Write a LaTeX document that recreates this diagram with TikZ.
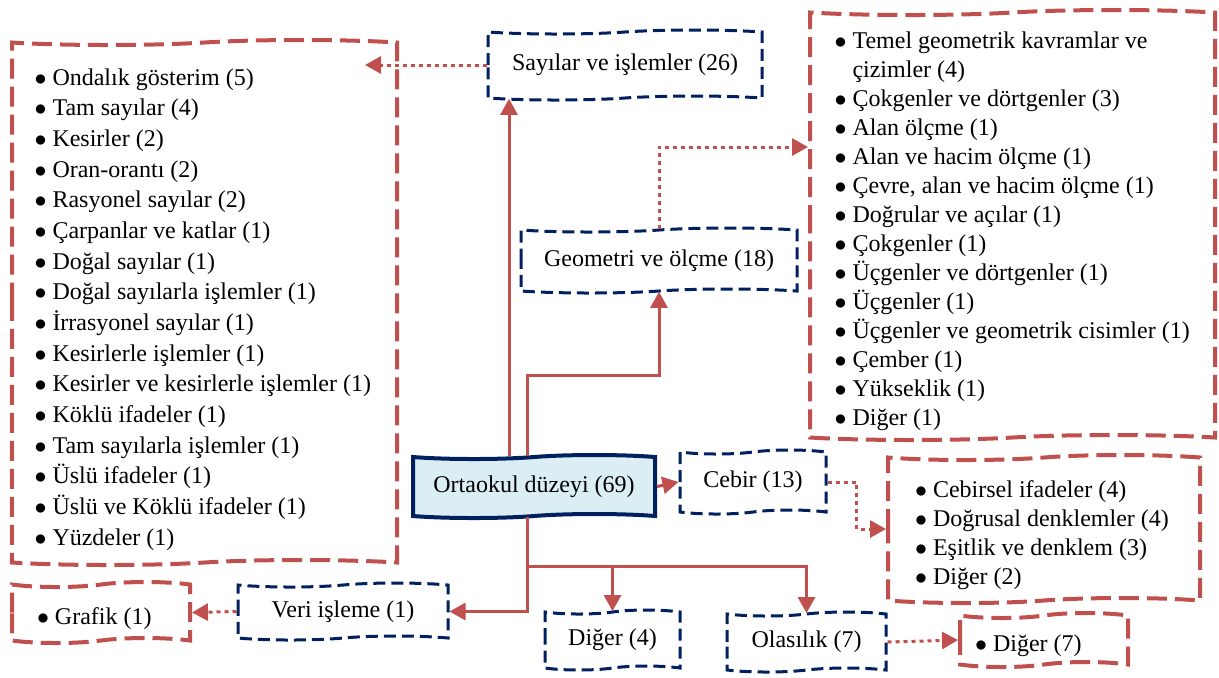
\documentclass[tikz,border=0pt]{standalone}
\usepackage{fontspec}
\setmainfont{Liberation Serif}
\usetikzlibrary{shapes,arrows,arrows.meta,positioning,calc}
\definecolor{kirmizi}{HTML}{C0504D}
\definecolor{lacivert}{HTML}{002060}
\definecolor{acikmavi}{HTML}{DAEEF3}
\newcommand{\madde}[1]{\par\spaceskip=\fontdimen2\font\relax\xspaceskip=0pt\hangindent=9pt\hangafter=1\noindent\makebox[9pt][l]{$\bullet$}#1}

\begin{document}
\begin{tikzpicture}[x=0.5pt, y=-0.5pt, every node/.style={font=\fontsize{12}{14.5}\selectfont},
    kutu/.style={tape, draw=lacivert, line width=1.5pt, dash pattern=on 6pt off 3pt, tape bend height=2pt, inner sep=1pt},
    liste/.style={tape, draw=kirmizi, line width=2pt, dash pattern=on 10pt off 4pt, tape bend height=2.5pt, align=left, inner sep=2pt},
    ok/.style={draw=kirmizi, line width=1.5pt, -{Triangle[length=8pt,width=8.5pt]}},
    noktali/.style={ok, dash pattern=on 2pt off 2pt}]
            \useasboundingbox (0,0) rectangle (1219,677);

            \node[kutu, solid, fill=acikmavi, line width=2pt, minimum width=121pt, minimum height=31.5pt] (ortaokul) at (534,486.5) {Ortaokul düzeyi (69)};
            \node[kutu, minimum width=137pt, minimum height=35pt] (sayilar) at (625,65) {Sayılar ve işlemler (26)};
            \node[kutu, minimum width=138pt, minimum height=32.5pt] (geometri) at (659,260.5) {Geometri ve ölçme (18)};
            \node[kutu, minimum width=73pt, minimum height=32pt] (cebir) at (753,482) {Cebir (13)};
            \node[kutu, minimum width=105pt, minimum height=28.5pt] (veri) at (343,611.5) {Veri işleme (1)};
            \node[kutu, minimum width=67.5pt, minimum height=30pt] (diger) at (612.5,640) {Diğer (4)};
            \node[kutu, minimum width=79.5pt, minimum height=30pt] (olasilik) at (806.5,642) {Olasılık (7)};

            \node[liste, text width=170pt, minimum width=192.5pt, minimum height=262.5pt, font=\fontsize{12}{15.33}\selectfont] (sayilarliste) at (204.5,302.5) {
                \madde{Ondalık gösterim (5)}
                \madde{Tam sayılar (4)}
                \madde{Kesirler (2)}
                \madde{Oran-orantı (2)}
                \madde{Rasyonel sayılar (2)}
                \madde{Çarpanlar ve katlar (1)}
                \madde{Doğal sayılar (1)}
                \madde{Doğal sayılarla işlemler (1)}
                \madde{İrrasyonel sayılar (1)}
                \madde{Kesirlerle işlemler (1)}
                \madde{Kesirler ve kesirlerle işlemler (1)}
                \madde{Köklü ifadeler (1)}
                \madde{Tam sayılarla işlemler (1)}
                \madde{Üslü ifadeler (1)}
                \madde{Üslü ve Köklü ifadeler (1)}
                \madde{Yüzdeler (1)}};
            \node[liste, text width=178pt, minimum width=202.5pt, minimum height=215pt] (geometriliste) at (1012.5,225) {
                \madde{Temel geometrik kavramlar ve çizimler (4)}
                \madde{Çokgenler ve dörtgenler (3)}
                \madde{Alan ölçme (1)}
                \madde{Alan ve hacim ölçme (1)}
                \madde{Çevre, alan ve hacim ölçme (1)}
                \madde{Doğrular ve açılar (1)}
                \madde{Çokgenler (1)}
                \madde{Üçgenler ve dörtgenler (1)}
                \madde{Üçgenler (1)}
                \madde{Üçgenler ve geometrik cisimler (1)}
                \madde{Çember (1)}
                \madde{Yükseklik (1)}
                \madde{Diğer (1)}};
            \node[liste, text width=129pt, minimum width=156pt, minimum height=74pt] (cebirliste) at (1044,529) {
                \madde{Cebirsel ifadeler (4)}
                \madde{Doğrusal denklemler (4)}
                \madde{Eşitlik ve denklem (3)}
                \madde{Diğer (2)}};
            \node[liste, text width=64pt, minimum width=89pt, minimum height=30.5pt] (veriliste) at (101,612.5) {\madde{Grafik (1)}};
            \node[liste, text width=69pt, minimum width=84pt, minimum height=27pt] (olasilikliste) at (1044,640) {\madde{Diğer (7)}};

            \draw[ok] ([shift={(-25,0)}]ortaokul.north) -- ([shift={(-25,0)}]ortaokul.north |- sayilar.south);
            \draw[ok] ([shift={(-7,0)}]ortaokul.north) -- ++(0,-80) -| (geometri.south);
            \draw[ok] (ortaokul.east) -- (cebir.west);
            \draw[ok] ([shift={(-7,0)}]ortaokul.south) -- ++(0,49) -| (diger.north);
            \draw[ok] ([shift={(-7,0)}]ortaokul.south) -- ++(0,49) -| (olasilik.north);
            \draw[ok] ([shift={(-7,0)}]ortaokul.south) |- (veri.east);

            \draw[noktali] (sayilar.west) -- ([shift={(-34,0)}]sayilarliste.east |- sayilar.west);
            \draw[noktali] (geometri.north) |- ([shift={(0,-78)}]geometriliste.west);
            \draw[noktali] (cebir.east) -- ++(29,0) |- (cebirliste.west);
            \draw[noktali] (veri.west) -- (veriliste.east);
            \draw[noktali] (olasilik.east) -- (olasilikliste.west);
        \end{tikzpicture}
\end{document}
